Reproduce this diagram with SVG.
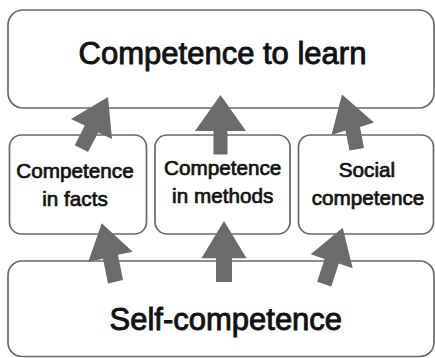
<svg xmlns="http://www.w3.org/2000/svg" width="435" height="358" viewBox="0 0 435 358">
<style>
.box{fill:#fff;stroke:#686868;stroke-width:1.7}
.t{font-family:"Liberation Sans",Arial,sans-serif;fill:#111;stroke:#111;text-anchor:middle;paint-order:stroke}
.big{font-size:31px;stroke-width:0.9}
.mid{font-size:20.7px;stroke-width:0.7}
.arrow{fill:#6b6b6b}
</style>
<rect width="435" height="358" fill="#fff"/>
<g id="node-learn">
<rect class="box" x="8" y="10" width="426" height="98" rx="15"/>
<text class="t big" x="222.5" y="63.5">Competence to learn</text>
</g>
<g id="node-facts">
<rect class="box" x="9.5" y="135" width="137" height="99" rx="12"/>
<text class="t mid" x="75" y="178">Competence</text>
<text class="t mid" x="75" y="206">in facts</text>
</g>
<g id="node-methods">
<rect class="box" x="155" y="135" width="135" height="99" rx="12"/>
<text class="t mid" x="222.7" y="175">Competence</text>
<text class="t mid" x="222.7" y="203">in methods</text>
</g>
<g id="node-social">
<rect class="box" x="298.5" y="135" width="135" height="99" rx="12"/>
<text class="t mid" x="367" y="177">Social</text>
<text class="t mid" x="368" y="205">competence</text>
</g>
<g id="node-self">
<rect class="box" x="8" y="261" width="426" height="95.5" rx="14"/>
<text class="t big" x="225.8" y="330">Self-competence</text>
</g>
<g id="connectors">
<polygon class="arrow" points="108,97 71,119 84.8,125.6 74.7,145.2 88.1,152 98.2,132.4 112,139"/>
<polygon class="arrow" points="220.5,95 195,131 213.5,131 213.5,154.5 227.5,154.5 227.5,131 246,131"/>
<polygon class="arrow" points="342,94.5 331.5,135 345.5,130.6 349.5,150.5 364,148 360,126.9 374,122.5"/>
<polygon class="arrow" points="101.7,223.3 88.3,261.7 103,258.7 108,283.5 123,280 118,254.7 132.7,251.7"/>
<polygon class="arrow" points="224,221 201.5,258.3 216,258.3 216,282 232,282 232,258.3 246.5,258.3"/>
<polygon class="arrow" points="342.7,227.7 310.7,254.3 324.6,259 317.1,281.8 331.3,286.4 338.8,263.6 352.7,268.3"/>
</g>
</svg>
